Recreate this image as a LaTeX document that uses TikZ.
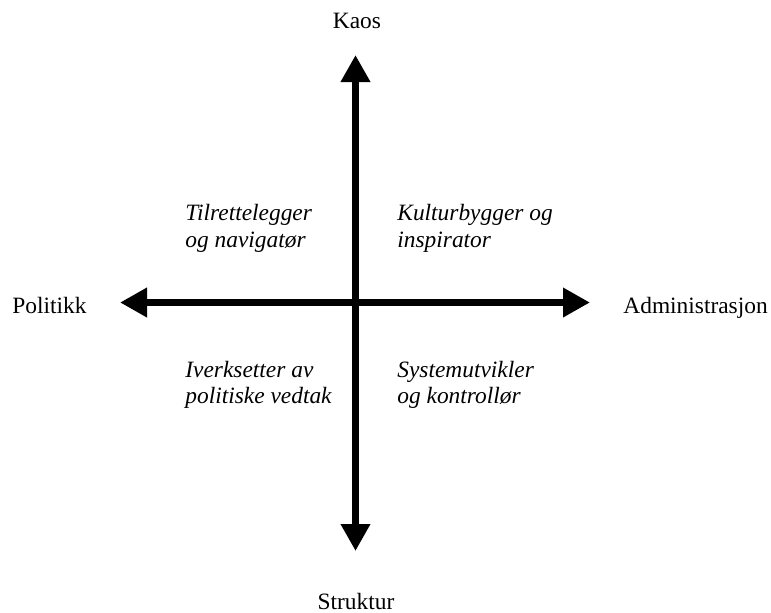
\documentclass[tikz,border=0pt]{standalone}
\usepackage{fontspec}
\setmainfont{Liberation Serif}
\usetikzlibrary{arrows.meta}

\begin{document}
\begin{tikzpicture}[x=0.5pt,y=-0.5pt,
  axisline/.style={line width=3.6pt,
    {Triangle[length=13.5pt,width=14pt]}-{Triangle[length=13.5pt,width=14pt]}},
  pole/.style={font=\fontsize{11.7}{14}\selectfont, inner sep=0pt},
  role/.style={font=\fontsize{11.7}{14}\selectfont\itshape, inner sep=0pt, anchor=base west}]
\useasboundingbox (0,0) rectangle (771,612);

% axis end points
\coordinate (up)    at (355.5,55);
\coordinate (down)  at (355.5,551);
\coordinate (left)  at (120,302.5);
\coordinate (right) at (590,302.5);

% the two axes
\draw[axisline] (down) -- (up);
\draw[axisline] (left) -- (right);

% poles
\node[pole, anchor=base] (kaos) at (357,28) {Kaos};
\node[pole, anchor=base] (struktur) at (356,609) {Struktur};
\node[pole, anchor=base west] (politikk) at (12,313) {Politikk};
\node[pole, anchor=base west] (admin) at (623,313) {Administrasjon};

% quadrant roles
\node[role] (nw1) at (185,220) {Tilrettelegger};
\node[role] (nw2) at (185,247) {og navigatør};
\node[role] (ne1) at (397,220) {Kulturbygger og};
\node[role] (ne2) at (397,247) {inspirator};
\node[role] (sw1) at (185,377) {Iverksetter av};
\node[role] (sw2) at (185,403) {politiske vedtak};
\node[role] (se1) at (397,377) {Systemutvikler};
\node[role] (se2) at (397,403) {og kontrollør};
\end{tikzpicture}
\end{document}
